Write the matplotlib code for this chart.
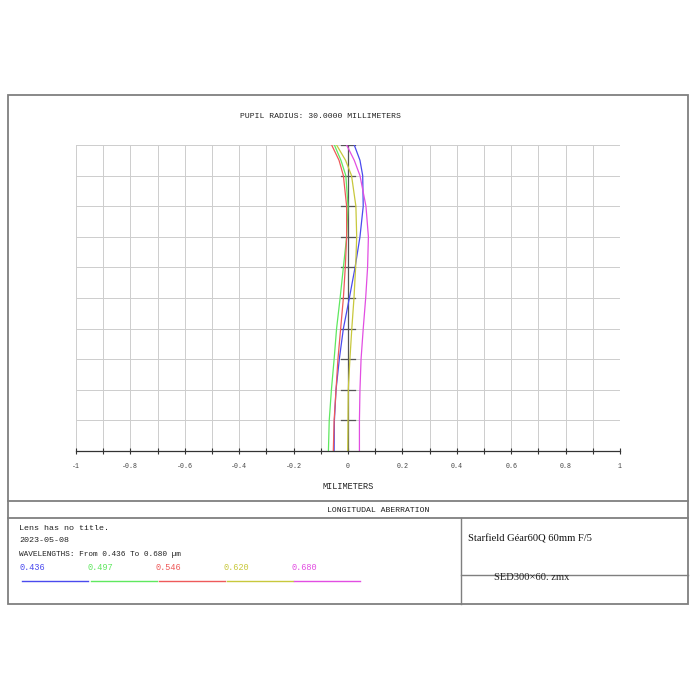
import matplotlib.pyplot as plt
from matplotlib.lines import Line2D

# pupil coordinate (relative), 0 = axis, 1 = edge
pupil = [0.0, 0.1, 0.2, 0.3, 0.4, 0.5, 0.6, 0.7, 0.8, 0.9, 0.95, 1.0]

# longitudinal aberration in mm for each wavelength
ab_436 = [-0.051, -0.050, -0.044, -0.032, -0.017, 0.005, 0.026, 0.044, 0.056, 0.054, 0.044, 0.023]
ab_497 = [-0.072, -0.069, -0.061, -0.051, -0.042, -0.029, -0.017, -0.005, 0.000, -0.008, -0.026, -0.050]
ab_546 = [-0.054, -0.051, -0.044, -0.037, -0.027, -0.017, -0.010, -0.005, -0.005, -0.017, -0.033, -0.060]
ab_620 = [-0.001, 0.000, 0.001, 0.007, 0.014, 0.022, 0.028, 0.032, 0.029, 0.013, -0.009, -0.042]
ab_680 = [0.042, 0.042, 0.044, 0.048, 0.056, 0.065, 0.072, 0.075, 0.066, 0.044, 0.023, -0.005]

wl_labels = ['0.436', '0.497', '0.546', '0.620', '0.680']
wl_colors = ['#4a4aee', '#5fe85f', '#ee5a5a', '#c8c83c', '#e24ee2']
series = [ab_436, ab_497, ab_546, ab_620, ab_680]

xticks = [-1, -0.8, -0.6, -0.4, -0.2, 0, 0.2, 0.4, 0.6, 0.8, 1]
xtick_labels = ['-1', '-0.8', '-0.6', '-0.4', '-0.2', '0', '0.2', '0.4', '0.6', '0.8', '1']

mono = 'Liberation Mono'
serif = 'Liberation Serif'
frame_col = '#7f7f7f'
txt_col = '#222222'

fig = plt.figure(figsize=(7, 7), dpi=100)

# background axes in pixel coordinates for the frame and the text blocks
bg = fig.add_axes([0, 0, 1, 1])
bg.set_xlim(0, 700)
bg.set_ylim(700, 0)
bg.axis('off')
bg.add_patch(plt.Rectangle((8, 95), 680, 509, fill=False, ec=frame_col, lw=1.3))
bg.plot([8, 688], [501, 501], color=frame_col, lw=1.3)
bg.plot([8, 688], [518, 518], color=frame_col, lw=1.3)
bg.plot([461, 461], [518, 604], color=frame_col, lw=1.0)
bg.plot([461, 688], [575, 575], color=frame_col, lw=1.0)

bg.text(320, 117, 'PUPIL RADIUS: 30.0000 MILLIMETERS', family=mono, fontsize=5.9,
        ha='center', va='center', color=txt_col)
bg.text(378, 510, 'LONGITUDAL ABERRATION', family=mono, fontsize=5.9,
        ha='center', va='center', color=txt_col)
bg.text(19, 528, 'Lens has no title.', family=mono, fontsize=6, va='center', color=txt_col)
bg.text(19, 541, '2023-05-08', family=mono, fontsize=6, va='center', color=txt_col)
bg.text(19, 554, 'WAVELENGTHS: From 0.436 To 0.680 \u00b5m', family=mono, fontsize=5.6,
        va='center', color=txt_col)
bg.text(468, 539, 'Starfield G\u00e9ar60Q 60mm F/5', family=serif, fontsize=7.6,
        va='center', color='#111111')
bg.text(532, 578, 'SED300\u00d760. zmx', family=serif, fontsize=7.6,
        ha='center', va='center', color=txt_col)

leg_x = [19, 88, 156, 224, 291]
for i, (lab, col) in enumerate(zip(wl_labels, wl_colors)):
    bg.text(leg_x[i], 567, lab, family=mono, fontsize=6.2, va='center', color=col)
    bg.plot([leg_x[i] + 3, leg_x[i] + 69], [581, 581], color=col, lw=1.0)

# aberration plot
ax = fig.add_axes([76 / 700, 1 - 451 / 700, 544 / 700, 306 / 700])
ax.set_xlim(-1, 1)
ax.set_ylim(0, 1)
for v in [i / 10 for i in range(-10, 11)]:
    ax.axvline(v, color='#cdcdcd', lw=0.7, zorder=1)
for v in [i / 10 for i in range(1, 11)]:
    ax.axhline(v, color='#cdcdcd', lw=0.7, zorder=1)
for s in ax.spines.values():
    s.set_visible(False)

ax.axvline(0, color='#555555', lw=0.9, zorder=2)
for v in [i / 10 for i in range(1, 11)]:
    ax.plot([-0.025, 0.025], [v, v], color='#555555', lw=0.9, zorder=2)

for vals, col in zip(series, wl_colors):
    ax.plot(vals, pupil, color=col, lw=0.9, zorder=3)

ax.set_yticks([])
ax.set_xticks(xticks)
ax.set_xticks([i / 10 for i in range(-10, 11)], minor=True)
ax.set_xticklabels(xtick_labels, family=mono, fontsize=4.8, color='#444444')
ax.tick_params(axis='x', which='both', direction='inout', length=4, width=0.8,
               color='#333333', pad=7)
ax.add_line(Line2D([-1, 1], [0, 0], color='#333333', lw=0.9, clip_on=False, zorder=4))
ax.set_xlabel('MILIMETERS', family=mono, fontsize=6.2, color=txt_col, labelpad=8)

fig.savefig('out.png', dpi=100)
